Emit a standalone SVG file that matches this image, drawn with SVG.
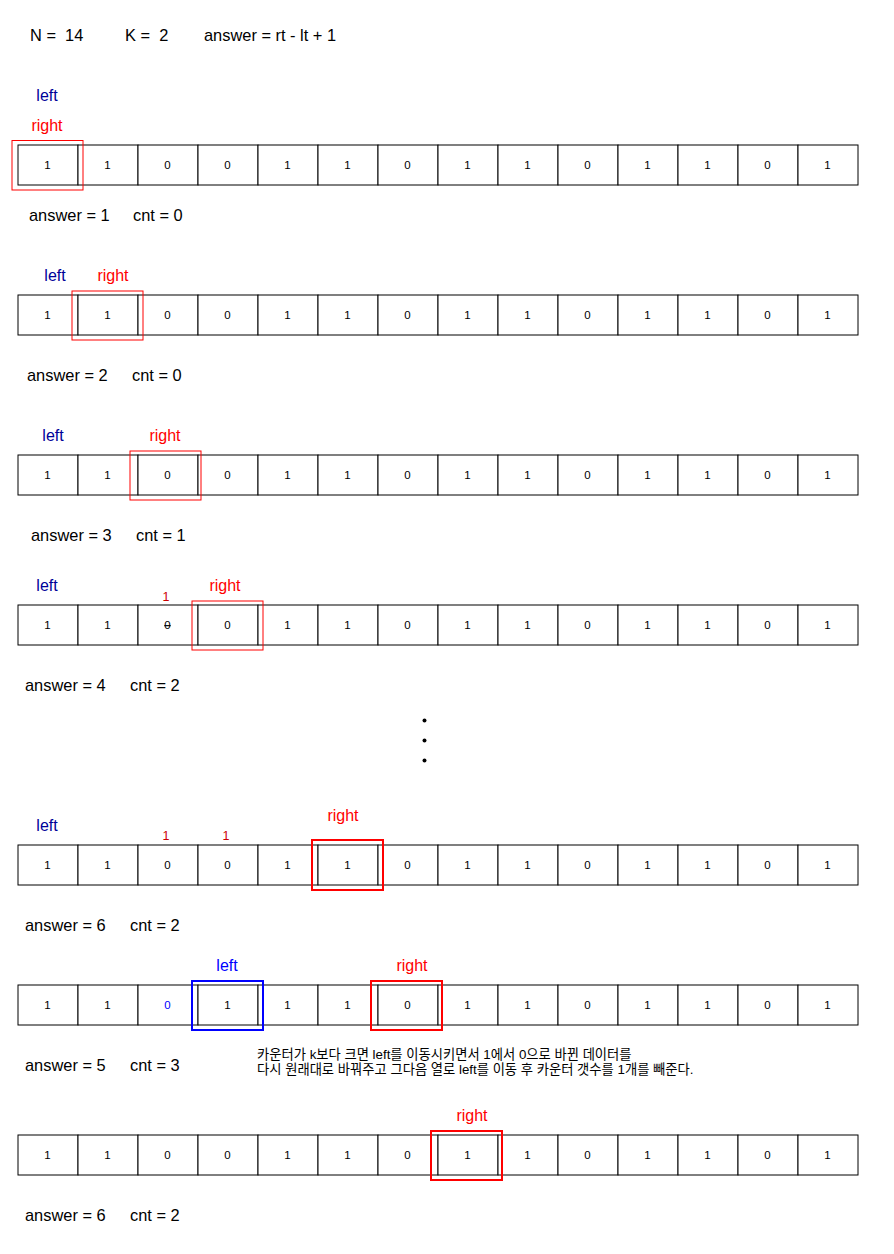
<svg xmlns="http://www.w3.org/2000/svg" xmlns:xlink="http://www.w3.org/1999/xlink" width="894" height="1254" viewBox="0 0 894 1254">
<style>
text{font-family:"Liberation Sans","Noto Sans CJK KR",Arial,sans-serif;}
.cell{fill:#fff;stroke:#000;stroke-width:1;}
.v{font-size:11.5px;fill:#000;text-anchor:middle;}
.lbl{font-size:16px;text-anchor:middle;}
.left{fill:#000099;}
.leftb{fill:#0000FF;}
.right{fill:#FF0000;}
.ans{font-size:16.4px;fill:#000;}
.hl1{fill:none;stroke:#FF0000;stroke-width:1;}
.hl2{fill:none;stroke:#FF0000;stroke-width:2;}
.hlb{fill:none;stroke:#0000FF;stroke-width:2;}
.mark{font-size:12.5px;fill:#CC0000;text-anchor:middle;}
.note{font-size:13.3px;fill:#000;}
</style>
<defs>
<g id="grid">
<rect class="cell" x="18" y="0" width="60" height="40"/>
<rect class="cell" x="78" y="0" width="60" height="40"/>
<rect class="cell" x="138" y="0" width="60" height="40"/>
<rect class="cell" x="198" y="0" width="60" height="40"/>
<rect class="cell" x="258" y="0" width="60" height="40"/>
<rect class="cell" x="318" y="0" width="60" height="40"/>
<rect class="cell" x="378" y="0" width="60" height="40"/>
<rect class="cell" x="438" y="0" width="60" height="40"/>
<rect class="cell" x="498" y="0" width="60" height="40"/>
<rect class="cell" x="558" y="0" width="60" height="40"/>
<rect class="cell" x="618" y="0" width="60" height="40"/>
<rect class="cell" x="678" y="0" width="60" height="40"/>
<rect class="cell" x="738" y="0" width="60" height="40"/>
<rect class="cell" x="798" y="0" width="60" height="40"/>
</g>
<g id="vals">
<text class="v" x="47.5" y="24">1</text>
<text class="v" x="107.5" y="24">1</text>
<text class="v" x="167.5" y="24">0</text>
<text class="v" x="227.5" y="24">0</text>
<text class="v" x="287.5" y="24">1</text>
<text class="v" x="347.5" y="24">1</text>
<text class="v" x="407.5" y="24">0</text>
<text class="v" x="467.5" y="24">1</text>
<text class="v" x="527.5" y="24">1</text>
<text class="v" x="587.5" y="24">0</text>
<text class="v" x="647.5" y="24">1</text>
<text class="v" x="707.5" y="24">1</text>
<text class="v" x="767.5" y="24">0</text>
<text class="v" x="827.5" y="24">1</text>
</g>
<g id="valsTail">
<text class="v" x="287.5" y="24">1</text>
<text class="v" x="347.5" y="24">1</text>
<text class="v" x="407.5" y="24">0</text>
<text class="v" x="467.5" y="24">1</text>
<text class="v" x="527.5" y="24">1</text>
<text class="v" x="587.5" y="24">0</text>
<text class="v" x="647.5" y="24">1</text>
<text class="v" x="707.5" y="24">1</text>
<text class="v" x="767.5" y="24">0</text>
<text class="v" x="827.5" y="24">1</text>
</g>
</defs>

<g id="header">
<text class="ans" x="30" y="41" xml:space="preserve">N =  14</text>
<text class="ans" x="125" y="41" xml:space="preserve">K =  2</text>
<text class="ans" x="204" y="41">answer = rt - lt + 1</text>
</g>

<g id="step1">
<use xlink:href="#grid" y="145"/>
<use xlink:href="#vals" y="145"/>
<rect class="hl1" x="12" y="140.5" width="71" height="49.5"/>
<text class="lbl left" x="47" y="101">left</text>
<text class="lbl right" x="47" y="131">right</text>
<text class="ans" x="29" y="221">answer = 1</text>
<text class="ans" x="133" y="221">cnt = 0</text>
</g>

<g id="step2">
<use xlink:href="#grid" y="295"/>
<use xlink:href="#vals" y="295"/>
<rect class="hl1" x="72" y="291" width="71" height="49"/>
<text class="lbl left" x="55" y="281">left</text>
<text class="lbl right" x="113" y="281">right</text>
<text class="ans" x="27" y="381">answer = 2</text>
<text class="ans" x="132" y="381">cnt = 0</text>
</g>

<g id="step3">
<use xlink:href="#grid" y="455"/>
<use xlink:href="#vals" y="455"/>
<rect class="hl1" x="130" y="451" width="71" height="49"/>
<text class="lbl left" x="53" y="441">left</text>
<text class="lbl right" x="165" y="441">right</text>
<text class="ans" x="31" y="541">answer = 3</text>
<text class="ans" x="136" y="541">cnt = 1</text>
</g>

<g id="step4">
<use xlink:href="#grid" y="605"/>
<text class="v" x="47.5" y="629">1</text>
<text class="v" x="107.5" y="629">1</text>
<text class="v" x="167.5" y="629" text-decoration="line-through">0</text>
<text class="v" x="227.5" y="629">0</text>
<use xlink:href="#valsTail" y="605"/>
<rect class="hl1" x="192" y="601" width="71" height="49"/>
<text class="lbl left" x="47" y="591">left</text>
<text class="lbl right" x="225" y="591">right</text>
<text class="mark" x="166" y="601">1</text>
<text class="ans" x="25" y="691">answer = 4</text>
<text class="ans" x="130" y="691">cnt = 2</text>
</g>

<g id="ellipsis">
<circle cx="424.5" cy="720.5" r="2"/>
<circle cx="424.5" cy="740.5" r="2"/>
<circle cx="424.5" cy="760.5" r="2"/>
</g>

<g id="step5">
<use xlink:href="#grid" y="845"/>
<use xlink:href="#vals" y="845"/>
<rect class="hl2" x="312" y="840" width="71" height="50"/>
<text class="lbl left" x="47" y="831">left</text>
<text class="lbl right" x="343" y="821">right</text>
<text class="mark" x="166" y="840">1</text>
<text class="mark" x="226" y="840">1</text>
<text class="ans" x="25" y="931">answer = 6</text>
<text class="ans" x="130" y="931">cnt = 2</text>
</g>

<g id="step6">
<use xlink:href="#grid" y="985"/>
<text class="v" x="47.5" y="1009">1</text>
<text class="v" x="107.5" y="1009">1</text>
<text class="v" x="167.5" y="1009" style="fill:#0000FF">0</text>
<text class="v" x="227.5" y="1009">1</text>
<use xlink:href="#valsTail" y="985"/>
<rect class="hlb" x="192" y="981" width="71" height="49"/>
<rect class="hl2" x="371" y="981" width="71" height="49"/>
<text class="lbl leftb" x="227" y="971">left</text>
<text class="lbl right" x="412" y="971">right</text>
<text class="ans" x="25" y="1071">answer = 5</text>
<text class="ans" x="130" y="1071">cnt = 3</text>
<text class="note" x="257" y="1059">카운터가 k보다 크면 left를 이동시키면서 1에서 0으로 바뀐 데이터를</text>
<text class="note" x="257" y="1073.5">다시 원래대로 바꿔주고 그다음 열로 left를 이동 후 카운터 갯수를 1개를 빼준다.</text>
</g>

<g id="step7">
<use xlink:href="#grid" y="1135"/>
<use xlink:href="#vals" y="1135"/>
<rect class="hl2" x="431" y="1131" width="71" height="49"/>
<text class="lbl right" x="472" y="1121">right</text>
<text class="ans" x="25" y="1221">answer = 6</text>
<text class="ans" x="130" y="1221">cnt = 2</text>
</g>

<g id="connectors"></g>
</svg>
